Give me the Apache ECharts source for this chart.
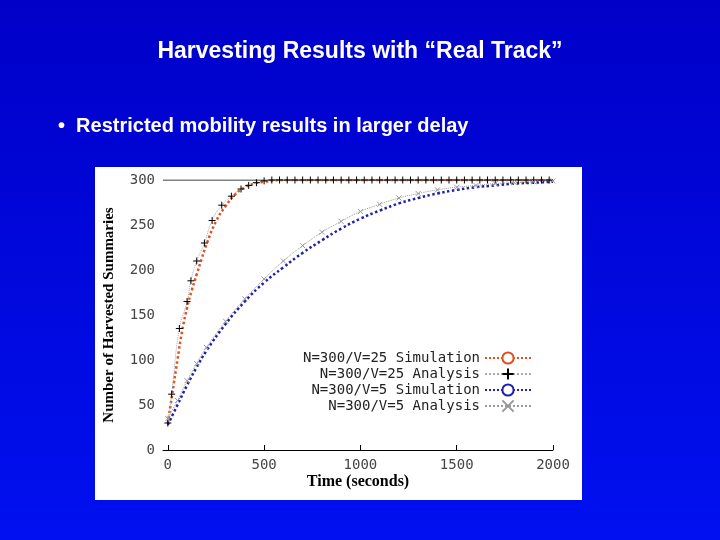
<!DOCTYPE html><html><head><meta charset="utf-8">
<script src="https://cdn.jsdelivr.net/npm/echarts@6/dist/echarts.min.js"></script>
<style>body{margin:0;background:#0000d8;}#c{width:720px;height:540px;}</style></head><body><div id="c"></div><script>
const sim25 = [[0,30],[25,65],[50,100],[75,133],[100,158],[125,178],[150,195],[175,212],[200,228],[250,254],[300,271],[350,284],[400,292],[450,296],[500,298],[600,300],[2000,300]];
const ana25 = [[0,30],[20,62],[60,135],[100,165],[120,188],[150,210],[190,230],[230,255],[280,272],[330,282],[380,290],[420,294],[460,297],[500,299],[540,300],[580,300],[620,300],[660,300],[700,300],[740,300],[780,300],[820,300],[860,300],[900,300],[940,300],[980,300],[1020,300],[1060,300],[1100,300],[1140,300],[1180,300],[1220,300],[1260,300],[1300,300],[1340,300],[1380,300],[1420,300],[1460,300],[1500,300],[1540,300],[1580,300],[1620,300],[1660,300],[1700,300],[1740,300],[1780,300],[1820,300],[1860,300],[1900,300],[1940,300],[1980,300]];
const sim5 = [[0,28],[50,50],[100,72],[150,92],[200,110],[300,140],[400,165],[500,186],[600,203],[700,219],[800,233],[900,246],[1000,257],[1100,266],[1200,274],[1300,280],[1400,285],[1500,289],[1600,292],[1700,294],[1800,296],[1900,297],[2000,298]];
const ana5 = [[0,35],[50,55],[100,77],[150,96],[200,114],[300,143],[400,168],[500,190],[600,210],[700,227],[800,242],[900,254],[1000,265],[1100,273],[1200,280],[1300,285],[1400,289],[1500,292],[1600,294],[1700,296],[1800,297],[1900,298],[2000,299]];
const xTicks=[0,500,1000,1500,2000];
const ch=echarts.init(document.getElementById('c'));
const mono='DejaVu Sans Mono';
ch.setOption({
backgroundColor:{type:'linear',x:0,y:0,x2:0,y2:1,colorStops:[{offset:0,color:'#0000c8'},{offset:1,color:'#0010f0'}]},
graphic:[
{type:'rect',shape:{x:95,y:167,width:487,height:333},style:{fill:'#fff'},z:-1},
{type:'text',left:'center',top:40,style:{text:'Harvesting Results with “Real Track”',fill:'#fff',font:'bold 23px "Liberation Sans"'}},
{type:'text',left:58,top:116,style:{text:'•  Restricted mobility results in larger delay',fill:'#fff',font:'bold 20px "Liberation Sans"'}}
],
grid:{left:163,right:167,top:180,bottom:90},
xAxis:{type:'value',min:-25,max:2000,name:'Time (seconds)',nameLocation:'middle',nameGap:24,
 nameTextStyle:{fontFamily:'Liberation Serif',fontWeight:'bold',fontSize:16,color:'#000'},
 axisLine:{lineStyle:{color:'#000'}},splitLine:{show:false},
 axisTick:{inside:true,customValues:xTicks,lineStyle:{color:'#000'}},
 axisLabel:{customValues:xTicks,formatter:v=>String(v),fontFamily:mono,color:'#444',fontSize:14}},
yAxis:{type:'value',min:0,max:300,interval:50,name:'Number of Harvested Summaries',nameLocation:'middle',nameGap:46,
 nameTextStyle:{fontFamily:'Liberation Serif',fontWeight:'bold',fontSize:15,color:'#000'},
 axisLine:{show:false},splitLine:{show:false},axisTick:{show:false},
 axisLabel:{fontFamily:mono,color:'#444',fontSize:14}},
legend:{orient:'vertical',right:183,top:346,itemGap:2,itemWidth:46,itemHeight:14,align:'right',
 textStyle:{fontFamily:mono,fontSize:14,color:'#222'}},
series:[
{name:'N=300/V=25 Simulation',type:'line',data:sim25,showSymbol:false,smooth:true,lineStyle:{color:'#e05020',type:'dotted',width:2.5},itemStyle:{color:'#e05020'}},
{name:'N=300/V=25 Analysis',type:'line',data:ana25,symbol:'path://M0,5L10,5M5,0L5,10',symbolSize:7,smooth:true,lineStyle:{color:'#aaa',type:'dotted',width:1},itemStyle:{color:'#000',borderColor:'#000',borderWidth:1}},
{name:'N=300/V=5 Simulation',type:'line',data:sim5,showSymbol:false,smooth:true,lineStyle:{color:'#2020b0',type:'dotted',width:2.5},itemStyle:{color:'#2020b0'}},
{name:'N=300/V=5 Analysis',type:'line',data:ana5,symbol:'path://M0,0L10,10M10,0L0,10',symbolSize:5,smooth:true,lineStyle:{color:'#999',type:'dotted',width:1},itemStyle:{color:'#999',borderColor:'#999',borderWidth:1}},
{type:'line',data:[[-25,300],[2000,300]],showSymbol:false,silent:true,lineStyle:{color:'#000',width:1},z:1}
]});
</script></body></html>
